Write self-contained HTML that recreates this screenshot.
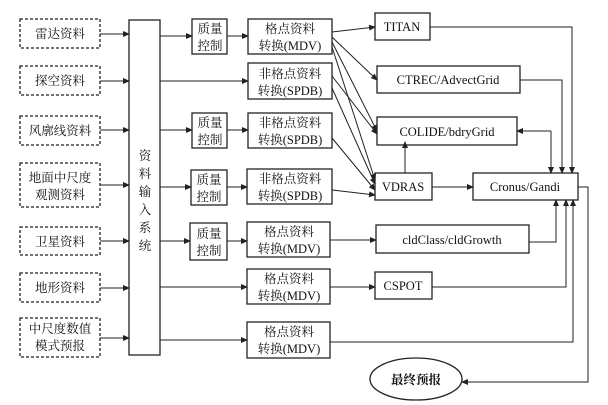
<!DOCTYPE html>
<html><head><meta charset="utf-8"><style>
html,body{margin:0;padding:0;background:#fff;}
svg{display:block;}
text{font-family:"Liberation Serif","Noto Serif CJK SC","Noto Sans CJK SC",serif;font-size:12.5px;fill:#111;}
</style></head><body>
<svg width="608" height="405" viewBox="0 0 608 405" xmlns="http://www.w3.org/2000/svg">
<defs><marker id="a" markerWidth="7" markerHeight="6" refX="6" refY="3" orient="auto" markerUnits="userSpaceOnUse"><path d="M0,0 L7,3 L0,6 z" fill="#222"/></marker></defs>
<g fill="none" stroke="#222" stroke-width="1.3">
<g stroke-dasharray="3,2">
<rect x="20" y="19" width="80" height="29"/>
<rect x="20" y="66" width="80" height="29"/>
<rect x="20" y="116" width="80" height="29"/>
<rect x="20" y="163" width="80" height="44"/>
<rect x="20" y="227" width="80" height="28"/>
<rect x="20" y="273" width="80" height="29"/>
<rect x="20" y="318" width="80" height="39"/>
</g>
<rect x="129" y="20" width="31" height="335"/>
<rect x="192" y="19" width="35" height="35"/>
<rect x="192" y="113" width="35" height="35"/>
<rect x="191" y="170" width="36" height="35"/>
<rect x="190" y="223" width="37" height="37"/>
<rect x="248" y="19" width="84" height="35"/>
<rect x="248" y="63" width="84" height="36"/>
<rect x="248" y="113" width="84" height="35"/>
<rect x="247" y="169" width="85" height="35"/>
<rect x="247" y="222" width="83" height="35"/>
<rect x="247" y="269" width="83" height="35"/>
<rect x="247" y="322" width="83" height="36"/>
<rect x="375" y="13" width="55" height="27"/>
<rect x="377" y="66" width="143" height="27"/>
<rect x="377" y="117" width="140" height="28"/>
<rect x="375" y="173" width="57" height="27"/>
<rect x="473" y="173" width="105" height="27"/>
<rect x="376" y="225" width="153" height="28"/>
<rect x="375" y="272" width="57" height="27"/>
<ellipse cx="416" cy="379" rx="46" ry="21"/>
</g>
<g fill="none" stroke="#222" stroke-width="1" marker-end="url(#a)">
<path d="M100 34 H129"/><path d="M100 81 H129"/><path d="M100 130 H129"/><path d="M100 185 H129"/>
<path d="M100 241 H129"/><path d="M100 288 H129"/><path d="M100 338 H129"/>
<path d="M160 36 H192"/><path d="M227 36 H248"/>
<path d="M160 81 H248"/>
<path d="M160 130 H192"/><path d="M227 130 H248"/>
<path d="M160 187 H191"/><path d="M227 187 H247"/>
<path d="M160 241 H190"/><path d="M227 241 H247"/>
<path d="M160 287 H247"/>
<path d="M160 340 H247"/>
<path d="M332 32 L375 27"/>
<path d="M332 37 L377 80"/>
<path d="M332 42 L377 131"/>
<path d="M332 47 L375 180"/>
<path d="M332 76 L377 134"/>
<path d="M332 88 L375 184"/>
<path d="M332 138 L375 190"/>
<path d="M332 190 L375 195"/>
<path d="M330 240 H376"/>
<path d="M330 287 H375"/>
<path d="M432 187 H473"/>
<path d="M405 173 V142"/>
<path d="M551 131 H517"/>
<path d="M551 131 V173"/>
<path d="M520 80 H562 V173"/>
<path d="M430 27 H572 V173"/>
<path d="M529 242 H556 V200"/>
<path d="M432 287 H566 V200"/>
<path d="M330 342 H573 V200"/>
<path d="M578 187 H588 V382 H462"/>
</g>
<g text-anchor="middle">
<text x="60" y="38">雷达资料</text>
<text x="60" y="85">探空资料</text>
<text x="60" y="135">风廓线资料</text>
<text x="60" y="182">地面中尺度</text><text x="60" y="199">观测资料</text>
<text x="60" y="246">卫星资料</text>
<text x="60" y="292">地形资料</text>
<text x="60" y="333">中尺度数值</text><text x="60" y="350">模式预报</text>
<text x="145" y="160">资</text><text x="145" y="178">料</text><text x="145" y="196">输</text><text x="145" y="214">入</text><text x="145" y="232">系</text><text x="145" y="250">统</text>
<text x="210" y="33">质量</text><text x="210" y="50">控制</text>
<text x="210" y="127">质量</text><text x="210" y="144">控制</text>
<text x="209" y="184">质量</text><text x="209" y="201">控制</text>
<text x="209" y="238">质量</text><text x="209" y="255">控制</text>
<text x="290" y="33">格点资料</text><text x="290" y="50">转换(MDV)</text>
<text x="290" y="78">非格点资料</text><text x="290" y="95">转换(SPDB)</text>
<text x="290" y="127">非格点资料</text><text x="290" y="144">转换(SPDB)</text>
<text x="290" y="183">非格点资料</text><text x="290" y="200">转换(SPDB)</text>
<text x="289" y="236">格点资料</text><text x="289" y="253">转换(MDV)</text>
<text x="289" y="283">格点资料</text><text x="289" y="300">转换(MDV)</text>
<text x="289" y="336">格点资料</text><text x="289" y="353">转换(MDV)</text>
<text x="402" y="31">TITAN</text>
<text x="448" y="84">CTREC/AdvectGrid</text>
<text x="447" y="136">COLIDE/bdryGrid</text>
<text x="403" y="191">VDRAS</text>
<text x="525" y="191">Cronus/Gandi</text>
<text x="452" y="244">cldClass/cldGrowth</text>
<text x="403" y="290">CSPOT</text>
<text x="416" y="384" style="font-weight:bold">最终预报</text>
</g>
</svg>
</body></html>
